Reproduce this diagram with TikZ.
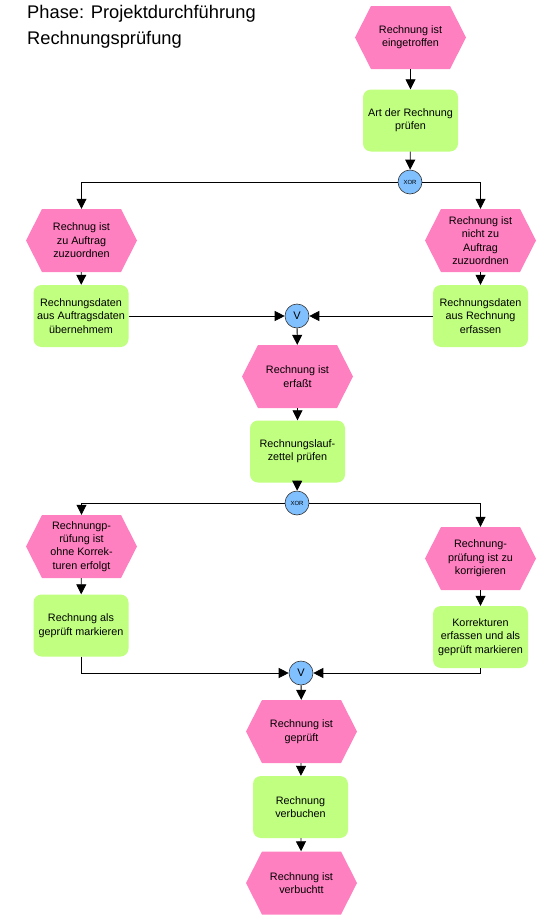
\documentclass[tikz,border=0pt]{standalone}
\usepackage{fontspec}
\setmainfont{Liberation Sans}
\usetikzlibrary{arrows.meta}
\definecolor{evpink}{HTML}{FF80C0}
\definecolor{fngreen}{HTML}{C0FF80}
\definecolor{opblue}{HTML}{80C0FF}
\tikzset{
  x=1pt, y=-1pt,
  lbl/.style={font=\fontsize{10.8}{13.4}\selectfont, align=center, inner sep=0pt},
  event/.style={lbl, minimum width=111pt, minimum height=63pt,
    path picture={\fill[evpink] (path picture bounding box.west)
      -- ([xshift=16pt]path picture bounding box.north west)
      -- ([xshift=-16pt]path picture bounding box.north east)
      -- (path picture bounding box.east)
      -- ([xshift=-16pt]path picture bounding box.south east)
      -- ([xshift=16pt]path picture bounding box.south west) -- cycle;}},
  func/.style={lbl, fill=fngreen, rounded corners=8pt, minimum width=95pt, minimum height=62pt},
  oper/.style={circle, fill=opblue, draw=black!80, line width=0.6pt, minimum size=24pt, inner sep=0pt},
  arr/.style={-{Triangle[width=10pt,length=10pt]}, line width=0.8pt},
  title/.style={font=\fontsize{18.3}{20}\selectfont, anchor=west, inner sep=0pt}
}
\begin{document}
\begin{tikzpicture}
\useasboundingbox (0,0) rectangle (540,918);
\node[title] (t1) at (27,14) {Phase: Projektdurchführung};
\node[title] (t2) at (27,40) {Rechnungsprüfung};

\node[event] (e1) at (410.5,37.5) {Rechnung ist\\eingetroffen};
\node[func]  (f1) at (410.5,120.5) {Art der Rechnung\\prüfen};
\node[oper]  (x1) at (410,182) {\fontsize{6}{6}\selectfont XOR};

\node[event] (e2) at (81.5,240.5) {Rechnug ist\\zu Auftrag\\zuzuordnen};
\node[event] (e3) at (480.5,240.5) {Rechnung ist\\nicht zu\\Auftrag\\zuzuordnen};
\node[func]  (f2) at (81,316) {Rechnungsdaten\\aus Auftragsdaten\\übernehmem};
\node[func]  (f3) at (480.5,316) {Rechnungsdaten\\aus Rechnung\\erfassen};
\node[oper]  (o1) at (297,316) {\fontsize{11}{11}\selectfont V};

\node[event] (e4) at (297.5,376.5) {Rechnung ist\\erfaßt};
\node[func]  (f4) at (297.5,451.5) {Rechnungslauf-\\zettel prüfen};
\node[oper]  (x2) at (297,503) {\fontsize{6}{6}\selectfont XOR};

\node[event] (e5) at (81.5,546.5) {Rechnungp-\\rüfung ist\\ohne Korrek-\\turen erfolgt};
\node[event] (e6) at (480.5,558.5) {Rechnung-\\prüfung ist zu\\korrigieren};
\node[func]  (f5) at (81,625.5) {Rechnung als\\geprüft markieren};
\node[func]  (f6) at (480.5,637) {Korrekturen\\erfassen und als\\geprüft markieren};
\node[oper]  (o2) at (301,673) {\fontsize{11}{11}\selectfont V};

\node[event] (e7) at (301.5,731.5) {Rechnung ist\\geprüft};
\node[func]  (f7) at (300.5,807) {Rechnung\\verbuchen};
\node[event] (e8) at (301.5,883) {Rechnung ist\\verbuchtt};

\draw[arr] (e1) -- (f1);
\draw[arr] (f1) -- (x1);
\draw[arr] (x1.west) -| (e2.north);
\draw[arr] (x1.east) -| (e3.north);
\draw[arr] (e2) -- (f2);
\draw[arr] (e3) -- (f3);
\draw[arr] (f2.east) -- (o1.west);
\draw[arr] (f3.west) -- (o1.east);
\draw[arr] (o1) -- (e4);
\draw[arr] (e4) -- (f4);
\draw[arr] (f4) -- (x2);
\draw[arr] (x2.west) -| (e5.north);
\draw[arr] (x2.east) -| (e6.north);
\draw[arr] (e5) -- (f5);
\draw[arr] (e6) -- (f6);
\draw[arr] (f5.south) |- (o2.west);
\draw[arr] (f6.south) |- (o2.east);
\draw[arr] (o2) -- (e7);
\draw[arr] (e7) -- (f7);
\draw[arr] (f7) -- (e8);
\end{tikzpicture}
\end{document}
